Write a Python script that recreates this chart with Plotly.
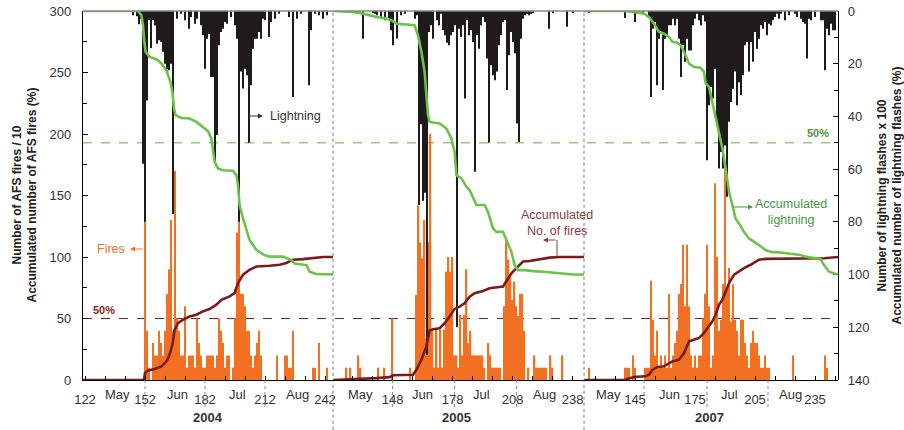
import plotly.graph_objects as go

# ---------------- data ----------------
# 2004 (day of year)
fires_2004_days = [152, 153, 154,
                   156, 157, 158, 159, 160, 161, 162, 163, 164, 165,
                   166, 167, 168, 169, 170, 171, 172, 173, 174, 175,
                   176, 177, 178, 179, 180, 181, 182, 183, 184, 185,
                   186, 187, 188, 189, 190, 191, 192, 193, 194,
                   196, 197, 198, 199, 200, 201, 202, 203, 204, 205, 206, 207, 208, 209, 210,
                   218, 222, 223, 224, 225, 226,
                   236, 237, 239, 243]
fires_2004_vals = [130, 40, 10,
                   30, 20, 20, 40, 30, 20, 40, 70, 90, 130,
                   40, 170, 50, 40, 20, 20, 60, 10, 20, 20,
                   20, 10, 50, 30, 20, 10, 10, 20, 20, 20,
                   20, 10, 20, 50, 40, 30, 10, 20, 20,
                   10, 50, 120, 130, 70, 70, 60, 40, 40, 20, 10, 20, 30, 40, 20,
                   20, 20, 20, 10, 10, 40,
                   10, 10, 30, 10]
light_2004_days = [146, 148, 149, 150, 151, 152, 153, 154, 155, 156, 157,
                   158, 159, 160, 161, 162, 163, 164, 165, 166,
                   168, 170, 172, 174, 175, 177, 178,
                   180, 181, 182, 183, 184, 185, 186, 187, 188, 189, 190, 191, 192, 193,
                   195, 197, 198,
                   199, 200, 201, 202, 203, 204, 205, 206, 207, 208, 209, 210, 211, 212,
                   214, 215, 217, 219, 224, 226, 228, 230, 234, 235, 237, 239, 241, 243]
light_2004_vals = [1.6, 2, 5, 3, 58, 80, 34, 3.5, 14, 3.5, 5.5,
                   12.4, 11.1, 11.7, 15.5, 20, 22, 22.5, 20, 77,
                   2.9, 1, 3.5, 6.7, 2.3, 4.8, 2.9,
                   5.4, 9.2, 21.9, 10.5, 8.6, 25, 25, 57, 47, 13, 8, 6.7, 4.2, 4.8,
                   2.3, 5.4, 10.5,
                   80, 23, 29.4, 21.9, 24.4, 50, 28.2, 14.3, 10.5, 10.5, 8, 10.5, 2.9, 3.5,
                   9.9, 4.2, 2.9, 1, 2.3, 32.6, 2.9, 1, 28.2, 7.3, 1, 1.6, 2.9, 1.6]
accf_2004_days = [121, 151.5, 152, 153.5, 156.8, 160.2, 162.7, 164.3, 165.7, 166.8,
                  168.5, 171, 174.3, 177.7, 181, 184.3, 187.7, 190.2, 194.3, 196.8,
                  198.5, 201, 204.3, 207.7, 214.3, 219.3, 222.7, 226, 231, 237.7, 241, 246]
accf_2004_vals = [0, 0, 5.7, 7.8, 8.9, 11.1, 15.1, 20.6, 28.7, 40.9,
                  46.3, 49, 51.7, 53.1, 55.8, 57.7, 61.2, 65.2, 68, 70.7,
                  78.8, 85.6, 89.6, 92.3, 92.9, 93.7, 95.1, 97.8, 98.3, 99.2, 100, 100]
accl_2004_days = [121, 148.5, 150.2, 151, 151.5, 152.3, 154.3, 157.7, 160.2, 162.7,
                  164.7, 165.7, 166.5, 167.3, 170.2, 174.3, 177.7, 181, 183.5, 185.2,
                  186, 186.8, 188.5, 191, 196, 197.7, 198.5, 199.3, 201, 202.7,
                  204.3, 207.7, 211.8, 214.3, 221, 225.2, 226.8, 232.7, 234.3, 237.7, 246]
accl_2004_vals = [0, 0, 1.6, 5.4, 10.5, 15.5, 17.4, 18.3, 19.9, 22.5,
                  26.9, 30.7, 37, 39.5, 40.6, 40.8, 42.1, 44, 45.6, 48.4,
                  53.4, 57.2, 59.7, 60.4, 60.6, 62.3, 66.1, 73.7, 78.7, 82.5,
                  86.9, 90.7, 92.6, 93.2, 93.2, 94.5, 95.8, 96.4, 98.9, 99.8, 100]

# 2005
fires_2005_days = [125, 127, 131, 132, 141, 144, 148, 157,
                   160, 161, 162, 163, 164, 165, 166, 167, 168, 169,
                   170, 171, 172, 173, 174, 175, 176, 177, 178, 179,
                   180, 181, 182, 183, 184, 185, 186, 187, 188, 189,
                   190, 191, 192, 193, 194, 196, 197, 198, 199, 200, 201, 202,
                   204, 205, 206, 207, 208, 209, 210, 211, 212, 213, 214, 216,
                   219, 220, 221, 222, 223, 224, 225, 227, 228, 233]
fires_2005_vals = [10, 10, 20, 10, 10, 10, 50, 10,
                   69, 142, 112, 99, 130, 34, 112, 200, 41, 10,
                   41, 10, 41, 10, 41, 88, 100, 88, 100, 20,
                   20, 10, 53, 20, 53, 90, 30, 40, 20, 20,
                   20, 20, 20, 20, 10, 30, 20, 10, 10, 10, 10, 10,
                   60, 114, 98, 84, 65, 80, 60, 52, 70, 70, 40, 10,
                   20, 10, 10, 10, 10, 10, 10, 20, 10, 20]
light_2005_days = [130, 133, 138, 139, 140, 142, 144, 146, 147, 148, 150, 152, 154,
                   159, 160, 161, 162, 163, 164, 165, 166, 167, 168,
                   170, 171, 172, 173, 174, 175, 176, 177, 178, 179,
                   180, 181, 182, 183, 184, 185, 186, 187, 188, 189,
                   190, 191, 192, 193, 194, 195, 196, 197, 198, 199,
                   200, 201, 202, 203, 204, 205, 206, 207, 208, 209,
                   210, 211, 212, 213, 214, 215, 216, 217, 218, 226, 228, 235, 238]
light_2005_vals = [0.4, 10.5, 0.4, 1, 1.6, 2.9, 3.5, 2.9, 7.3, 13, 10.4, 1.6, 1,
                   2.9, 1.6, 73.6, 43, 72, 69, 130.5, 8, 5.4, 10.5,
                   3.5, 5.4, 1, 7.3, 9.2, 12, 13, 9.2, 8, 5.4,
                   120, 6.7, 9.9, 5.4, 33.2, 3.5, 9.2, 7.3, 11.8, 61,
                   9.2, 14.3, 5.4, 2.3, 4.2, 18, 50, 20.6, 24.4, 26.3,
                   23, 13, 9.2, 4.2, 3.5, 30, 16.8, 8, 11.8, 16,
                   42.7, 49.7, 10.5, 2.9, 1.6, 1, 1.6, 1, 0.4, 6.7, 0.4, 6, 0.4]
accf_2005_days = [118.2, 131.5, 139.9, 146.5, 148.2, 158.2, 159.9, 162.4, 164.9, 166.5,
                  168.2, 171.5, 174, 176.5, 179, 181.5, 184, 186.5, 189, 193.2,
                  196.5, 203.2, 204.9, 207.4, 209.9, 213.2, 216.5, 221.5, 226.5, 231.5, 243.7]
accf_2005_vals = [0, 0.7, 1.5, 2.3, 3.9, 4.2, 8.3, 16.4, 27.2, 40.2,
                  41.3, 42.1, 46.1, 51.6, 57.8, 59.7, 62.4, 67.8, 70.5, 72.4,
                  74.6, 76, 80, 86.8, 90.9, 96.3, 96.8, 98.2, 99.5, 100, 100]
accl_2005_days = [118.2, 128.2, 133.2, 139.9, 144.9, 147.4, 149.9, 154.9, 159, 160.7,
                  162.4, 164, 164.9, 165.7, 166.5, 171.5, 174.9, 177.4, 179, 179.9,
                  182.4, 184.9, 186.5, 188.2, 189.9, 194, 195.7, 198.2, 199.9, 203.2,
                  205.7, 207.4, 209, 210.7, 214, 218.2, 224.9, 231.5, 238.2, 243.7]
accl_2005_vals = [0, 0.4, 1, 2.3, 2.9, 3.5, 4.8, 5.0, 5.4, 9.2,
                  15.5, 23.1, 32, 39.5, 42.1, 42.7, 44.6, 48.4, 53.4, 62.3,
                  63.5, 66.7, 67.9, 71.1, 73.6, 73.6, 76.2, 82.5, 83.8, 83.8,
                  88.8, 91.4, 96.4, 98.3, 98.3, 98.7, 99, 99.6, 100, 100]

# 2007
fires_2007_days = [122, 140, 141, 142, 144, 145, 150, 151, 152,
                   153, 154, 155, 156, 157, 158, 159, 160, 161, 162,
                   163, 164, 165, 166, 167, 168, 169, 170, 171, 172,
                   173, 174, 175, 176, 177, 178, 179, 180, 181, 182,
                   183, 184, 185, 186, 187, 188, 189, 190, 191, 192,
                   193, 194, 195, 196, 197, 198, 199, 200, 201, 202,
                   203, 204, 205, 206, 207, 208, 209, 210, 211, 212,
                   224, 240, 241]
fires_2007_vals = [10, 10, 10, 10, 20, 10, 10, 10, 10,
                   80.7, 49, 20, 40, 10, 20, 10, 20, 10, 70,
                   10, 20, 30, 40, 70, 78, 110, 60, 110, 60,
                   20, 10, 20, 10, 20, 20, 50, 70, 110, 60,
                   10, 20, 160, 100, 40, 49, 78, 172, 74, 91,
                   47.6, 78, 49, 40, 20, 49, 49, 30, 20, 10,
                   30, 40, 30, 30, 20, 10, 10, 20, 10, 10,
                   20, 20, 10]
light_2007_days = [122, 140, 145, 149,
                   152, 153, 154, 155, 156, 157, 158, 159, 160, 161,
                   162, 163, 164, 165, 166, 167, 168, 169, 170, 171,
                   172, 173, 174, 175, 176, 177, 178, 179, 180, 181,
                   182, 183, 184, 185, 186, 187, 188, 189, 190, 191,
                   192, 193, 194, 195, 196, 197, 198, 199, 200, 201,
                   202, 203, 204, 205, 206, 207, 208, 209, 210, 211,
                   212, 213, 214, 215, 216, 217, 218, 220, 222, 225,
                   226, 228, 229, 230, 231, 232, 233, 235, 238, 239,
                   240, 241, 242, 243, 244, 245]
light_2007_vals = [0.6, 2.7, 4.2, 1,
                   2.3, 32.6, 6.7, 4.2, 28.2, 10.5, 8, 30, 10.5, 9.2,
                   5.4, 5.4, 2.9, 5.4, 2.9, 10.5, 25, 13, 19.3, 10.5,
                   15, 15, 5.4, 2.9, 1, 3.5, 5.4, 1.6, 4, 56.6,
                   35.8, 28.8, 33.2, 21.9, 43.4, 59.8, 53.5, 59.8, 51, 70.5,
                   42, 34.5, 29.5, 23, 35.8, 27, 32, 24.4, 13, 11.8,
                   23, 11.8, 19.3, 8, 14.3, 10.5, 5.4, 6.7, 4.2, 9.2,
                   4.8, 5.4, 3.5, 2.3, 1, 2.9, 1, 3.5, 1.6, 1,
                   2.3, 2.9, 4.2, 4.8, 18, 2.9, 3.5, 2.3, 3.5, 3.5,
                   22.5, 6.7, 9.2, 4.8, 7.3, 7.3]
accf_2007_days = [119.5, 139.5, 142.8, 144.5, 150.3, 152, 153.7, 156.2, 159.5, 162,
                  163.7, 167, 169.5, 172, 174.5, 177, 179.5, 182, 183.7, 185.3,
                  187, 188.7, 190.3, 192, 194.5, 197, 199.5, 202.8, 207, 210.3,
                  214.5, 222.8, 232.8, 239.5, 246.5]
accf_2007_vals = [0, 0, 1.6, 2.4, 3, 4.3, 8.4, 10.6, 11.1, 13.8,
                  15.1, 16.5, 21.9, 31.4, 32.8, 34.1, 38.2, 43.6, 47.7, 53.1,
                  61.2, 65.3, 72.1, 78.8, 85.6, 88.3, 91, 93.7, 97.8, 98.5,
                  98.5, 98.5, 98.5, 99, 100]
accl_2007_days = [119.5, 139.5, 144.5, 149.5, 152, 154.5, 157, 159.5, 162, 163.7,
                  166.2, 167.8, 169.5, 172, 174.5, 177.8, 179.5, 180.3, 182, 183.7,
                  185.3, 187, 188.7, 190.3, 192, 193.7, 195.3, 197, 199.5, 202,
                  204.5, 207, 210.3, 212.8, 217.8, 222.8, 227.8, 230.3, 234.5, 237.8,
                  239.5, 242, 246.5]
accl_2007_vals = [0, 0, 0.4, 1, 2.3, 4.8, 7.9, 8.6, 9.8, 11.7,
                  12, 13, 15.5, 19.9, 21.2, 21.5, 23.1, 27.5, 28.8, 34.5,
                  40.2, 45.8, 52.2, 59.7, 68.6, 73.6, 78.7, 80.6, 83.8, 86.3,
                  87.5, 88.8, 90.7, 91.4, 91.6, 92, 92.6, 93.2, 93.9, 94.2,
                  96.4, 98.9, 100]

# axis tick labels
ticks_2004 = [122, 152, 182, 212, 242]
ticks_2005 = [148, 178, 208, 238]
ticks_2007 = [145, 175, 205, 235]
months = ["May", "Jun", "Jul", "Aug"]
month_days_2004 = [138, 168, 198, 228]
month_days_2005 = [131.7, 163, 192.5, 223.7]
month_days_2007 = [131.7, 162.2, 192.2, 222.5]
years = ["2004", "2005", "2007"]

# ---------------- style ----------------
ORANGE = "#f36f21"
BLACK = "#1e1b1a"
GREEN = "#6cc24a"
DARKRED = "#7a1c1c"
FONT = "Liberation Sans, Arial, sans-serif"

W, H = 904, 430
ML, MR, MT, MB = 83, 66, 11, 50
PW, PH = W - ML - MR, H - MT - MB


def px(xpix):
    return (xpix - ML) / PW


def py(ypix):
    return (H - MB - ypix) / PH


b1, b2 = px(333), px(584)

fig = go.Figure()

panels = [
    ("x", fires_2004_days, fires_2004_vals, light_2004_days, light_2004_vals,
     accf_2004_days, accf_2004_vals, accl_2004_days, accl_2004_vals),
    ("x2", fires_2005_days, fires_2005_vals, light_2005_days, light_2005_vals,
     accf_2005_days, accf_2005_vals, accl_2005_days, accl_2005_vals),
    ("x3", fires_2007_days, fires_2007_vals, light_2007_days, light_2007_vals,
     accf_2007_days, accf_2007_vals, accl_2007_days, accl_2007_vals),
]
for xa, fd, fv, ld, lv, afd, afv, ald, alv in panels:
    fig.add_bar(x=fd, y=fv, xaxis=xa, yaxis="y", width=0.62,
                marker=dict(color=ORANGE, line=dict(width=0)))
    fig.add_bar(x=ld, y=lv, xaxis=xa, yaxis="y2", width=0.45,
                marker=dict(color=BLACK, line=dict(width=0)))
    fig.add_scatter(x=afd, y=afv, xaxis=xa, yaxis="y3", mode="lines",
                    line=dict(color=DARKRED, width=2.6))
    fig.add_scatter(x=ald, y=alv, xaxis=xa, yaxis="y4", mode="lines",
                    line=dict(color=GREEN, width=2.6))

tickfont = dict(family=FONT, size=13, color="#333")
xcommon = dict(showgrid=False, zeroline=False, showline=True, linecolor="black",
               linewidth=1.3, ticks="inside", ticklen=4, tickcolor="black",
               tickwidth=1, tickfont=tickfont, ticklabelstandoff=7, anchor="y",
               automargin=False)


def minor_of(ticks, lo, hi):
    vals = []
    t = ticks[0]
    while t - 10 >= lo:
        t -= 10
    while t <= hi:
        vals.append(t)
        t += 10
    return dict(tickvals=vals, ticks="inside", ticklen=4, tickcolor="black")


fig.update_layout(
    template="none",
    width=W, height=H, margin=dict(l=ML, r=MR, t=MT, b=MB, autoexpand=False),
    paper_bgcolor="white", plot_bgcolor="white", showlegend=False,
    barmode="overlay", font=dict(family=FONT, size=13, color="#333"),
    xaxis=dict(domain=[0, b1], range=[121, 246], tickvals=ticks_2004,
               minor=minor_of(ticks_2004, 121, 246), **xcommon),
    xaxis2=dict(domain=[b1, b2], range=[118.2, 243.7], tickvals=ticks_2005,
                minor=minor_of(ticks_2005, 118.2, 243.7), **xcommon),
    xaxis3=dict(domain=[b2, 1], range=[119.5, 246.5], tickvals=ticks_2007,
                minor=minor_of(ticks_2007, 119.5, 246.5), **xcommon),
    yaxis=dict(range=[0, 300], tickvals=list(range(0, 301, 50)),
               minor=dict(tickvals=list(range(25, 300, 50)), ticks="inside",
                          ticklen=4, tickcolor="black"),
               ticks="inside", ticklen=5, tickcolor="black", showline=True,
               linecolor="black", linewidth=1.3, showgrid=False, zeroline=False,
               anchor="x", tickfont=tickfont, ticklabelstandoff=8, automargin=False),
    yaxis2=dict(range=[140, 0], overlaying="y", side="right", anchor="free",
                position=1, tickvals=list(range(0, 141, 20)),
                minor=dict(tickvals=list(range(10, 140, 20)), ticks="inside",
                           ticklen=4, tickcolor="black"),
                ticks="inside", ticklen=5, tickcolor="black", showline=True,
                linecolor="black", linewidth=1.3, showgrid=False, zeroline=False,
                tickfont=tickfont, ticklabelstandoff=6, automargin=False),
    yaxis3=dict(range=[0, 300], overlaying="y", visible=False, showgrid=False),
    yaxis4=dict(range=[140, 0], overlaying="y", visible=False, showgrid=False),
)

shapes = []
# top frame line
shapes.append(dict(type="line", xref="paper", yref="paper", x0=0, x1=1, y0=1, y1=1,
                   line=dict(color="#888", width=1.5)))
# 50% reference lines
shapes.append(dict(type="line", xref="paper", yref="y", x0=0, x1=1, y0=50, y1=50,
                   line=dict(color="#8b1c1c", width=1, dash="dash"), layer="below"))
shapes.append(dict(type="line", xref="paper", yref="y2", x0=0, x1=1, y0=50, y1=50,
                   line=dict(color="#8fd16a", width=1.5, dash="dash"), layer="below"))
# panel separators
for b in (b1, b2):
    shapes.append(dict(type="line", xref="paper", yref="paper", x0=b, x1=b,
                       y0=-0.135, y1=1.0, line=dict(color="#777", width=1, dash="dot")))
# short dotted guides under the axis
for xr, days in (("x", [152, 182, 212]), ("x2", [148, 179, 210]),
                 ("x3", [149.5, 181, 211.5])):
    for d in days:
        shapes.append(dict(type="line", xref=xr, yref="paper", x0=d, x1=d,
                           y0=0, y1=-0.08, line=dict(color="#888", width=1, dash="dot")))
# bracket for accumulated fires label
shapes.append(dict(type="line", xref="paper", yref="paper", x0=px(557), x1=px(557),
                   y0=py(257), y1=py(240), line=dict(color="#8e3b3b", width=1)))
fig.update_layout(shapes=shapes)

ann = []
# month labels and years
for xr, mdays in (("x", month_days_2004), ("x2", month_days_2005), ("x3", month_days_2007)):
    for m, d in zip(months, mdays):
        ann.append(dict(xref=xr, yref="paper", x=d, y=py(394), text=m, showarrow=False,
                        font=dict(family=FONT, size=13, color="#333"),
                        xanchor="center", yanchor="middle"))
for xr, d, yr in (("x", 183.7, years[0]), ("x2", 180, years[1]), ("x3", 182.2, years[2])):
    ann.append(dict(xref=xr, yref="paper", x=d, y=py(418), text="<b>%s</b>" % yr,
                    showarrow=False, font=dict(family=FONT, size=13, color="#333"),
                    xanchor="center", yanchor="middle"))
# axis titles
ann.append(dict(xref="paper", yref="paper", x=px(24), y=0.5, textangle=-90,
                text="<b>Number of AFS fires / 10<br>Accumulated number of AFS fires (%)</b>",
                showarrow=False, font=dict(family=FONT, size=12, color="#222"),
                xanchor="center", yanchor="middle"))
ann.append(dict(xref="paper", yref="paper", x=px(889), y=0.5, textangle=-90,
                text="<b>Number of lightning flashes x 100<br>Accumulated number of lightning flashes (%)</b>",
                showarrow=False, font=dict(family=FONT, size=12, color="#222"),
                xanchor="center", yanchor="middle"))
# 50% labels
ann.append(dict(xref="paper", yref="y2", x=px(831), y=50, yshift=2, text="<b>50%</b>",
                showarrow=False, font=dict(family=FONT, size=11, color="#4c9a3c"),
                xanchor="right", yanchor="bottom"))
ann.append(dict(xref="paper", yref="y", x=px(91), y=50, yshift=1, text="<b>50%</b>",
                showarrow=False, font=dict(family=FONT, size=11, color="#8b1c1c"),
                xanchor="left", yanchor="bottom"))
# series labels
ann.append(dict(xref="paper", yref="paper", x=px(268), y=py(116), text="Lightning",
                showarrow=False, font=dict(family=FONT, size=12.5, color="#333"),
                xanchor="left", yanchor="middle"))
ann.append(dict(xref="paper", yref="paper", x=px(263), y=py(116), ax=-16, ay=0,
                text="", showarrow=True, arrowhead=2, arrowsize=1, arrowwidth=1,
                arrowcolor="#333"))
ann.append(dict(xref="paper", yref="paper", x=px(127), y=py(249), text="Fires",
                showarrow=False, font=dict(family=FONT, size=12.5, color=ORANGE),
                xanchor="right", yanchor="middle"))
ann.append(dict(xref="paper", yref="paper", x=px(130), y=py(249), ax=14, ay=0,
                text="", showarrow=True, arrowhead=2, arrowsize=1, arrowwidth=1,
                arrowcolor=ORANGE))
ann.append(dict(xref="paper", yref="paper", x=px(557), y=py(223), text="Accumulated<br>No. of fires",
                showarrow=False, font=dict(family=FONT, size=12.5, color="#8e3b3b"),
                xanchor="center", yanchor="middle"))
ann.append(dict(xref="paper", yref="paper", x=px(543), y=py(240), ax=14, ay=0,
                text="", showarrow=True, arrowhead=2, arrowsize=1, arrowwidth=1,
                arrowcolor="#8e3b3b"))
ann.append(dict(xref="paper", yref="paper", x=px(791), y=py(212), text="Accumulated<br>lightning",
                showarrow=False, font=dict(family=FONT, size=12.5, color="#3f9b3f"),
                xanchor="center", yanchor="middle"))
ann.append(dict(xref="paper", yref="paper", x=px(753), y=py(207), ax=-21, ay=0,
                text="", showarrow=True, arrowhead=2, arrowsize=1, arrowwidth=1,
                arrowcolor="#3f9b3f"))
fig.update_layout(annotations=ann)

fig.write_html("out.html", config={"displayModeBar": False},
               post_script="document.body.style.margin='0';document.body.style.overflow='hidden';")
